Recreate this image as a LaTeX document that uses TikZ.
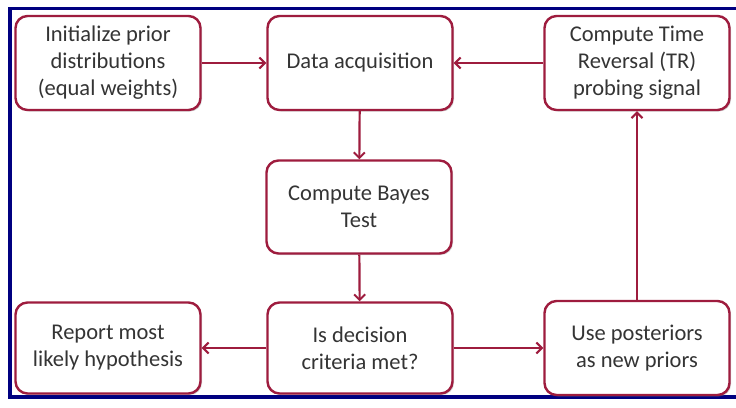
\documentclass[tikz,border=0pt]{standalone}
\usepackage{fontspec}
\setmainfont{Carlito}
\usetikzlibrary{arrows.meta,shadows}
\definecolor{boxred}{RGB}{158,28,62}
\definecolor{frameblue}{RGB}{0,0,128}
\definecolor{txtgray}{RGB}{52,52,52}
\tikzset{
  stepbox/.style={draw=boxred, line width=2.4pt, fill=white, rounded corners=12pt,
    minimum width=185pt, minimum height=94pt, align=center, text=txtgray,
    font=\fontsize{22.5}{27}\selectfont, inner sep=2pt,
    drop shadow={shadow xshift=1.5pt, shadow yshift=-1.5pt, opacity=0.35, fill=black!50}},
  flow/.style={draw=boxred, line width=2.2pt, -{Straight Barb[length=5.5pt,width=11pt,line width=2pt]}}
}
\begin{document}
\begin{tikzpicture}[x=1pt,y=-1pt]
  \useasboundingbox (0,0) rectangle (736,407);
  % outer frame, open on the right
  \draw[frameblue, line width=3.2pt] (736,8.5) -- (10,8.5) -- (10,397) -- (736,397);

  \node[stepbox] (init) at (108,63) {Initialize prior\\distributions\\(equal weights)};
  \node[stepbox] (data) at (360,63) {Data acquisition};
  \node[stepbox] (tr) at (637,63) {Compute Time\\Reversal (TR)\\probing signal};
  \node[stepbox, minimum height=93pt] (bayes) at (359,207) {Compute Bayes\\Test};
  \node[stepbox, minimum height=91pt] (report) at (108,348) {Report most\\likely hypothesis};
  \node[stepbox, minimum height=91pt] (decide) at (360,348) {Is decision\\criteria met?};
  \node[stepbox, minimum height=94pt] (post) at (637,348) {Use posteriors\\as new priors};

  \draw[flow] (init) -- (data);
  \draw[flow] (tr) -- (data);
  \draw[flow] (data) -- (bayes);
  \draw[flow] (bayes) -- (decide);
  \draw[flow] (decide) -- (report);
  \draw[flow] (decide) -- (post);
  \draw[flow] (post) -- (tr);
\end{tikzpicture}
\end{document}
